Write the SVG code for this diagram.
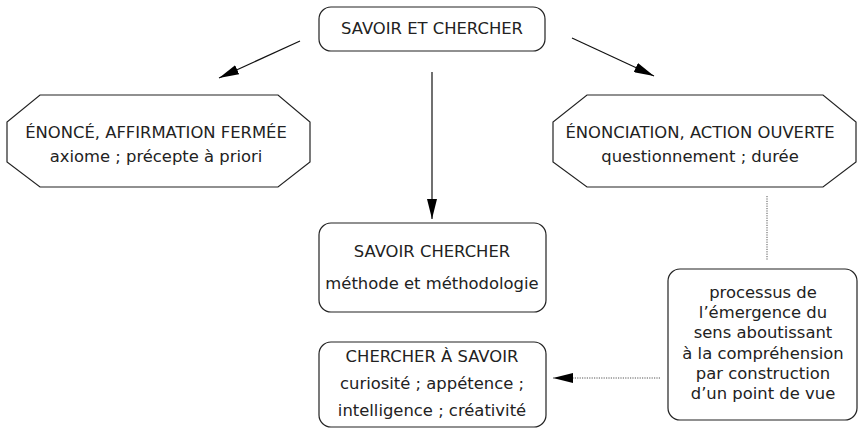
<svg xmlns="http://www.w3.org/2000/svg" width="859" height="430" viewBox="0 0 859 430">
<defs>
<marker id="ah" viewBox="0 0 20 10" refX="20" refY="5" markerWidth="20" markerHeight="10" markerUnits="userSpaceOnUse" orient="auto">
<path d="M0,0 L20,5 L0,10 z" fill="#000"/>
</marker>
<style>
.box{fill:#fff;stroke:#222;stroke-width:1.2}
.t{font-family:"DejaVu Sans",Verdana,sans-serif;font-size:16.4px;fill:#222;text-anchor:middle}
.c{stroke:#111;stroke-width:1.2;fill:none}
.d{stroke:#555;stroke-width:1;fill:none;stroke-dasharray:1.2 1.2}
</style>
</defs>
<rect width="859" height="430" fill="#fff"/>
<g id="connectors">
<line class="c" x1="300" y1="41" x2="219" y2="78" marker-end="url(#ah)"/>
<line class="c" x1="572" y1="38" x2="654" y2="76" marker-end="url(#ah)"/>
<line class="c" x1="432" y1="72" x2="432" y2="219" marker-end="url(#ah)"/>
<line class="d" x1="767" y1="196" x2="767" y2="260"/>
<line class="d" x1="660" y1="378" x2="553" y2="378" marker-end="url(#ah)"/>
</g>
<g id="n-top">
<rect class="box" x="319" y="7" width="226" height="44" rx="12"/>
<text class="t" x="432" y="34">SAVOIR ET CHERCHER</text>
</g>
<g id="n-enonce">
<polygon class="box" points="40,95 278,95 310,122 310,162 278,187 40,187 7,162 7,122"/>
<text class="t" x="156" y="138">ÉNONCÉ, AFFIRMATION FERMÉE</text>
<text class="t" x="156" y="162">axiome ; précepte à priori</text>
</g>
<g id="n-enonciation">
<polygon class="box" points="587,95 823,95 856,122 856,162 823,187 587,187 553,162 553,122"/>
<text class="t" x="700" y="138">ÉNONCIATION, ACTION OUVERTE</text>
<text class="t" x="700" y="162">questionnement ; durée</text>
</g>
<g id="n-savoir-chercher">
<rect class="box" x="319" y="223" width="227" height="89" rx="12"/>
<text class="t" x="432" y="257">SAVOIR CHERCHER</text>
<text class="t" x="432" y="289">méthode et méthodologie</text>
</g>
<g id="n-chercher-savoir">
<rect class="box" x="319" y="342" width="227" height="85" rx="12"/>
<text class="t" x="432" y="362">CHERCHER À SAVOIR</text>
<text class="t" x="432" y="389">curiosité ; appétence ;</text>
<text class="t" x="432" y="416">intelligence ; créativité</text>
</g>
<g id="n-processus">
<rect class="box" x="668" y="269" width="189" height="151" rx="12"/>
<text class="t" x="763" y="298">processus de</text>
<text class="t" x="763" y="318">l’émergence du</text>
<text class="t" x="763" y="338">sens aboutissant</text>
<text class="t" x="763" y="359">à la compréhension</text>
<text class="t" x="763" y="379">par construction</text>
<text class="t" x="763" y="399">d’un point de vue</text>
</g>
</svg>
